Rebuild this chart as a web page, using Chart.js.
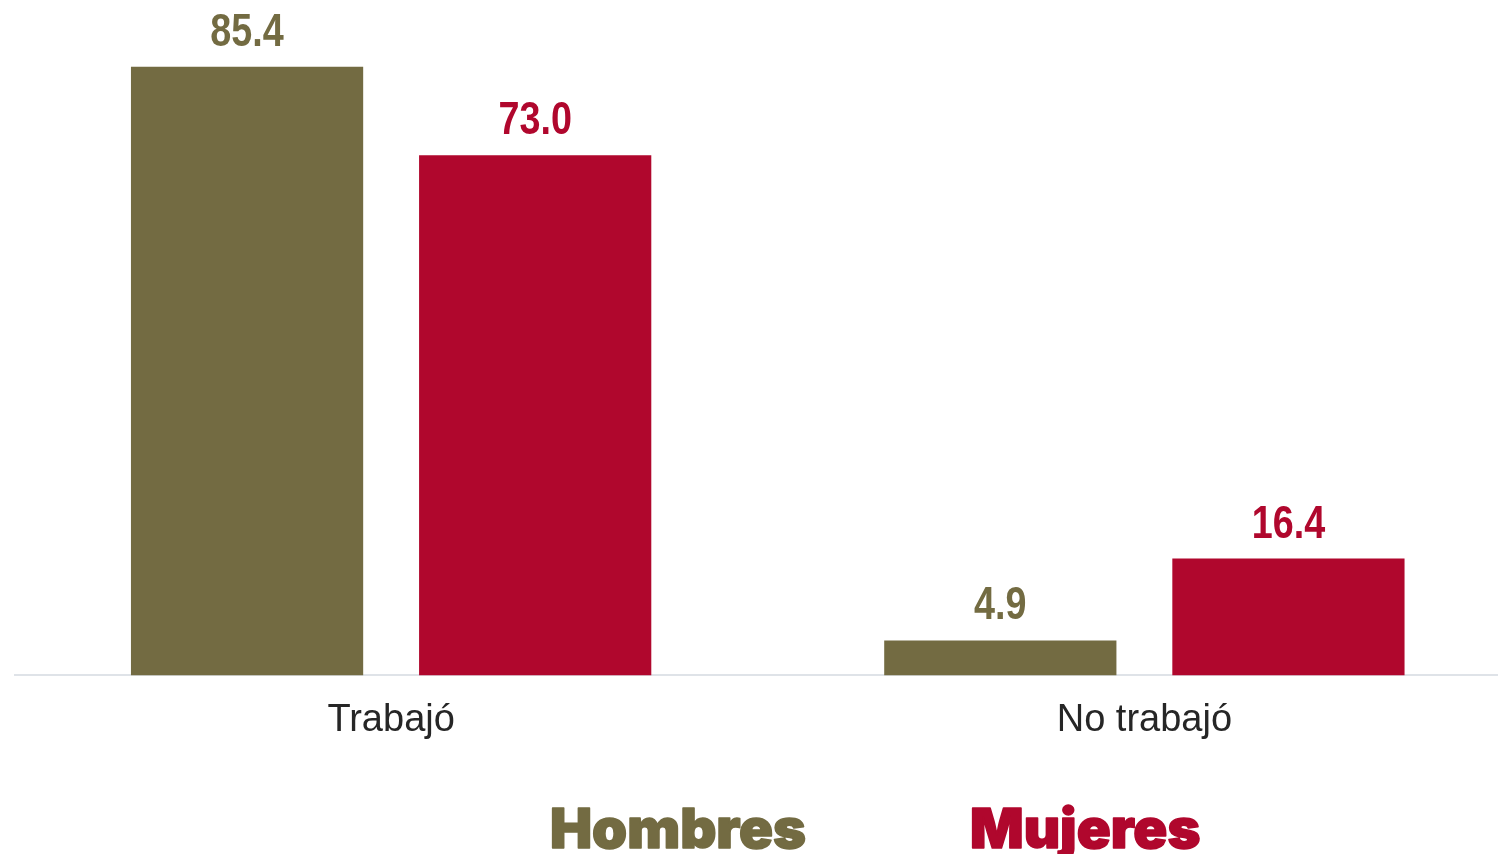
<!DOCTYPE html>
<html lang="es">
<head>
<meta charset="utf-8">
<title>Trabajó / No trabajó</title>
<script src="https://cdn.jsdelivr.net/npm/chart.js@4.4.1/dist/chart.umd.min.js"></script>
<style>
  html, body { margin: 0; padding: 0; background: #fff; overflow: hidden; }
  #wrap { position: relative; width: 1521px; height: 854px; }
</style>
</head>
<body>
<div id="wrap"><canvas id="barChart"></canvas></div>
<script>
// --- Data ---
const categories = ['Trabajó', 'No trabajó'];
const seriesNames = ['Hombres', 'Mujeres'];
const hombres = [85.4, 4.9];
const mujeres = [73.0, 16.4];
const seriesColors = ['#736B42', '#B0072D'];

const canvas = document.getElementById('barChart');

// value labels above each bar (narrow bold look: Liberation Sans scaled down horizontally)
const valueLabels = {
  id: 'valueLabels',
  afterDatasetsDraw(chart) {
    const ctx = chart.ctx;
    chart.data.datasets.forEach((ds, i) => {
      const meta = chart.getDatasetMeta(i);
      meta.data.forEach((bar, j) => {
        ctx.save();
        ctx.translate(bar.x, bar.y - 21);
        ctx.scale(0.82, 1);
        ctx.font = 'bold 46px "Liberation Sans", Arial, sans-serif';
        ctx.fillStyle = ds.backgroundColor;
        ctx.textAlign = 'center';
        ctx.textBaseline = 'alphabetic';
        ctx.fillText(ds.data[j].toFixed(1), 0, 0);
        ctx.restore();
      });
    });
  }
};

// heavy legend text under the axis labels
const bigLegend = {
  id: 'bigLegend',
  afterDraw(chart) {
    const ctx = chart.ctx;
    const starts = [550, 970];
    ctx.save();
    ctx.font = '900 55px Inter, "DejaVu Sans", sans-serif';
    const sx = 256 / ctx.measureText(chart.data.datasets[0].label).width;
    chart.data.datasets.forEach((ds, i) => {
      ctx.save();
      ctx.translate(starts[i], 848);
      ctx.scale(sx, 1);
      ctx.fillStyle = ds.backgroundColor;
      ctx.strokeStyle = ds.backgroundColor;
      ctx.lineWidth = 1.5;
      ctx.lineJoin = 'round';
      ctx.textAlign = 'left';
      ctx.textBaseline = 'alphabetic';
      ctx.fillText(ds.label, 0, 0);
      ctx.strokeText(ds.label, 0, 0);
      ctx.restore();
    });
    ctx.restore();
  }
};

const chart = new Chart(canvas, {
  type: 'bar',
  data: {
    labels: categories,
    datasets: [
      { label: seriesNames[0], data: hombres, backgroundColor: seriesColors[0] },
      { label: seriesNames[1], data: mujeres, backgroundColor: seriesColors[1] }
    ]
  },
  options: {
    responsive: true,
    maintainAspectRatio: false,
    animation: false,
    layout: { padding: { left: 14.5, right: 0, top: 34, bottom: 89 } },
    datasets: { bar: { categoryPercentage: 0.765, barPercentage: 0.806 } },
    plugins: {
      legend: { display: false },
      tooltip: { enabled: false }
    },
    scales: {
      x: {
        grid: { display: false, drawTicks: false },
        border: { display: true, color: '#DFE3E8', width: 2 },
        ticks: {
          color: '#262626',
          padding: 22,
          font: { family: '"Liberation Sans", Arial, sans-serif', size: 38 }
        }
      },
      y: {
        display: false,
        min: 0,
        max: 90
      }
    }
  },
  plugins: [valueLabels, bigLegend]
});
</script>
</body>
</html>
